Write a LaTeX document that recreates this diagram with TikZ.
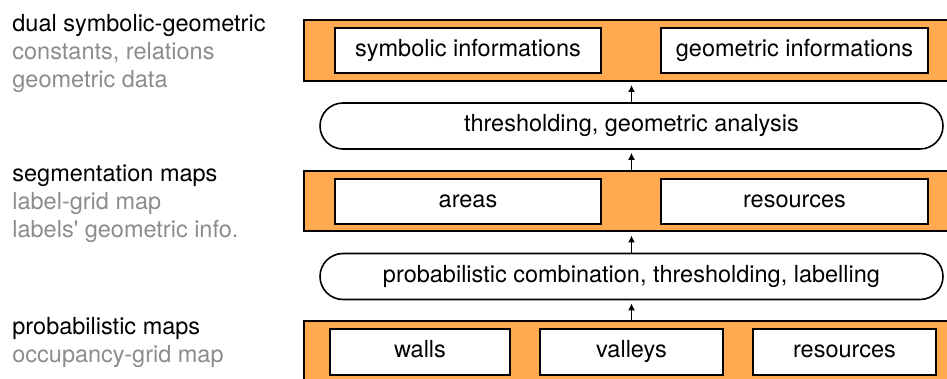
\documentclass[tikz,border=0pt]{standalone}
\usepackage{fontspec}
\setmainfont{TeX Gyre Heros}
\usetikzlibrary{arrows.meta}
\definecolor{bandorange}{RGB}{255,170,80}
\definecolor{subgray}{RGB}{140,140,140}
\tikzset{
  band/.style={draw,line width=1pt,fill=bandorange,minimum height=30.5pt,minimum width=323pt,inner sep=0pt},
  infobox/.style={draw,line width=1pt,fill=white,minimum height=22.5pt,inner sep=0pt,text height=8.6pt,text depth=2.6pt},
  stadium/.style={draw,line width=0.8pt,fill=white,rounded corners=11.5pt,minimum width=311.5pt,minimum height=23pt,inner sep=0pt,text height=8.6pt,text depth=2.6pt},
  uparr/.style={-{Latex[length=3.5pt,width=3.5pt]},line width=0.8pt,shorten >=1.5pt},
  headtxt/.style={anchor=base west,inner sep=0pt},
  subtxt/.style={anchor=base west,inner sep=0pt,text=subgray}
}
\begin{document}
\begin{tikzpicture}[x=0.5pt,y=0.5pt,font=\fontsize{11.75}{14}\selectfont]
  \useasboundingbox (0,0) rectangle (947,379);
  \node[band] (top) at (627,328.5) {};
  \node[infobox,minimum width=133pt] (symb) at (468,328.5) {symbolic informations};
  \node[infobox,minimum width=133.5pt] (geom) at (794.5,328.5) {geometric informations};
  \node[stadium] (thr) at (631.5,253) {thresholding, geometric analysis};
  \node[band,minimum height=30.25pt] (mid) at (627,177.75) {};
  \node[infobox,minimum width=133pt] (areas) at (468,177.5) {areas};
  \node[infobox,minimum width=133.5pt] (res) at (794.5,177.5) {resources};
  \node[stadium] (comb) at (631.5,102.5) {probabilistic combination, thresholding, labelling};
  \node[band,minimum height=31.5pt] (bot) at (627,26.5) {};
  \node[infobox,minimum width=90pt,minimum height=23pt] (walls) at (420,27) {walls};
  \node[infobox,minimum width=91.5pt,minimum height=23pt] (valleys) at (631.5,27) {valleys};
  \node[infobox,minimum width=91.5pt,minimum height=23pt] (resb) at (844.5,27) {resources};
  \draw[uparr] (thr.north) -- (thr.north |- top.south);
  \draw[uparr] (thr.south |- mid.north) -- (thr.south);
  \draw[uparr] (comb.north) -- (comb.north |- mid.south);
  \draw[uparr] (comb.south |- bot.north) -- (comb.south);
  \node[headtxt] (dual) at (12,347.5) {dual symbolic-geometric};
  \node[subtxt] (const) at (12,319) {constants, relations};
  \node[subtxt] (geodata) at (12,291) {geometric data};
  \node[headtxt] (segm) at (12,197) {segmentation maps};
  \node[subtxt] (lgrid) at (12,169) {label-grid map};
  \node[subtxt] (linfo) at (12,141) {labels\textquotesingle{} geometric info.};
  \node[headtxt] (prob) at (12,44) {probabilistic maps};
  \node[subtxt] (occ) at (12,16) {occupancy-grid map};
\end{tikzpicture}
\end{document}
